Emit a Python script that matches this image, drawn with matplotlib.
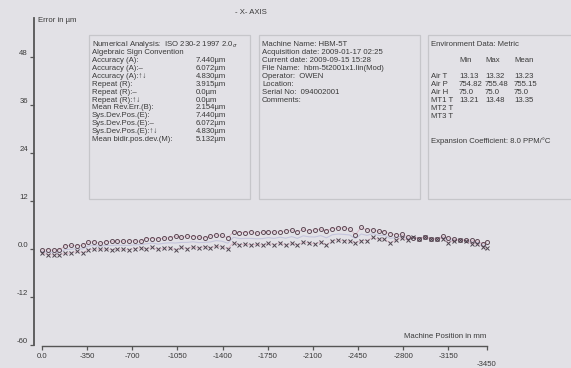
import numpy as np
import matplotlib
matplotlib.use("Agg")
import matplotlib.pyplot as plt

positions = [0, -45, -90, -135, -180, -225, -270, -315, -360, -405, -450, -495, -540, -585,
             -630, -675, -720, -765, -810, -855, -900, -945, -990, -1035, -1080, -1125, -1170,
             -1215, -1260, -1305, -1350, -1395, -1440, -1485, -1530, -1575, -1620, -1665, -1710,
             -1755, -1800, -1845, -1890, -1935, -1980, -2025, -2070, -2115, -2160, -2205, -2250,
             -2295, -2340, -2385, -2430, -2475, -2520, -2565, -2610, -2655, -2700, -2745, -2790,
             -2835, -2880, -2925, -2970, -3015, -3060, -3105, -3150, -3195, -3240, -3285, -3330,
             -3375, -3420, -3450]

forward_err = [-0.3, -0.2, -0.3, -0.2, 0.8, 0.9, 0.8, 0.9, 1.7, 1.8, 1.4, 1.8, 1.9, 2.0, 1.9, 2.0,
               2.0, 1.9, 2.6, 2.6, 2.5, 2.7, 2.8, 3.2, 2.9, 3.2, 3.1, 3.0, 2.7, 3.2, 3.5, 3.4, 2.8,
               4.3, 4.1, 4.1, 4.3, 3.9, 4.2, 4.3, 4.2, 4.3, 4.5, 4.7, 4.3, 4.9, 4.5, 4.8, 4.9, 4.6,
               5.1, 5.2, 5.3, 5.0, 3.6, 5.4, 4.7, 4.8, 4.4, 4.3, 3.8, 3.5, 3.7, 3.0, 2.8, 2.5, 3.1,
               2.6, 2.5, 3.2, 2.7, 2.5, 2.3, 2.3, 2.2, 2.0, 1.3, 1.8]

reverse_err = [-1.0, -1.4, -1.5, -1.4, -1.1, -1.0, -0.6, -0.9, -0.2, 0.0, -0.1, 0.0, -0.2, 0.0,
               -0.1, -0.2, 0.1, 0.3, 0.0, 0.4, -0.1, 0.2, 0.3, -0.2, 0.4, 0.1, 0.5, 0.2, 0.6, 0.3,
               0.7, 0.5, 0.1, 1.6, 1.1, 1.2, 1.0, 1.2, 1.0, 1.4, 1.1, 1.6, 0.9, 1.5, 1.0, 1.7, 1.6,
               1.2, 1.8, 1.0, 2.0, 2.3, 2.0, 2.0, 1.6, 2.1, 2.1, 2.9, 2.4, 2.5, 1.5, 2.3, 2.8, 2.2,
               3.0, 2.6, 3.0, 2.4, 2.6, 2.6, 1.6, 2.1, 2.3, 2.0, 1.3, 1.2, 0.6, 0.2]

y_ticks = [48, 36, 24, 12, 0, -12, -60]
y_tick_labels = ["48", "36", "24", "12", "0.0", "-12", "-60"]
x_ticks = [0, -350, -700, -1050, -1400, -1750, -2100, -2450, -2800, -3150, -3450]
x_tick_labels = ["0.0", "-350", "-700", "-1050", "-1400", "-1750", "-2100", "-2450",
                 "-2800", "-3150", "-3450"]

analysis_labels = ["Accuracy (A):", "Accuracy (A):\u2013", "Accuracy (A):\u2191\u2193",
                   "Repeat (R):", "Repeat (R):\u2013", "Repeat (R):\u2191\u2193",
                   "Mean Rev.Err.(B):", "Sys.Dev.Pos.(E):", "Sys.Dev.Pos.(E):\u2013",
                   "Sys.Dev.Pos.(E):\u2191\u2193", "Mean bidir.pos.dev.(M):"]
analysis_values = ["7.440\u00b5m", "6.072\u00b5m", "4.830\u00b5m", "3.915\u00b5m", "0.0\u00b5m",
                   "0.0\u00b5m", "2.154\u00b5m", "7.440\u00b5m", "6.072\u00b5m", "4.830\u00b5m",
                   "5.132\u00b5m"]
machine_lines = ["Machine Name: HBM-5T", "Acquisition date: 2009-01-17 02:25",
                 "Current date: 2009-09-15 15:28", "File Name:  hbm-5t2001x1.lin(Mod)",
                 "Operator:  OWEN", "Location:", "Serial No:  094002001", "Comments:"]
env_rows = ["Air T", "Air P", "Air H", "MT1 T", "MT2 T", "MT3 T"]
env_min = ["13.13", "754.82", "75.0", "13.21", "", ""]
env_max = ["13.32", "755.48", "75.0", "13.48", "", ""]
env_mean = ["13.23", "755.15", "75.0", "13.35", "", ""]

plt.rcParams['font.family'] = ['Liberation Sans', 'DejaVu Sans']
BG = "#e2e1e6"
TXT = "#3a3a3a"
W, H = 571, 368
fig = plt.figure(figsize=(W / 100, H / 100), dpi=100, facecolor=BG)

def fx(px):
    return px / W

def fy(py):
    return 1 - py / H

ax = fig.add_axes([fx(42), fy(346), fx(487) - fx(42), fy(18) - fy(346)])
ax.patch.set_visible(False)
ax.set_zorder(2)

def fwd(y):
    y = np.asarray(y, dtype=float)
    return np.where(y >= -12, y, -12 + (y + 12) / 4.0)

def inv(y):
    y = np.asarray(y, dtype=float)
    return np.where(y >= -12, y, -12 + (y + 12) * 4.0)

ax.set_yscale('function', functions=(fwd, inv))
ax.set_ylim(-61, 57.75)
ax.set_xlim(0, -3450)

# text boxes (drawn in figure coords, behind data)
def box(x0, y0, x1, y1):
    r = plt.Rectangle((fx(x0), fy(y1)), fx(x1) - fx(x0), fy(y0) - fy(y1),
                      transform=fig.transFigure, facecolor='none', edgecolor="#c6c6ca",
                      linewidth=0.9, zorder=1)
    fig.add_artist(r)

box(89, 35, 250, 199)
box(259, 35, 420, 199)
box(428, 35, 580, 199)

fs = 5.6
fig.text(fx(92), fy(44), "Numerical Analysis:  ISO 230-2 1997 2.0$_\\sigma$", fontsize=fs,
         color=TXT, va='center')
fig.text(fx(92), fy(52.5), "Algebraic Sign Convention", fontsize=fs, color=TXT, va='center')
for k, (lab, val) in enumerate(zip(analysis_labels, analysis_values)):
    yy = 61 + k * 7.8
    fig.text(fx(92), fy(yy), lab, fontsize=fs, color=TXT, va='center')
    fig.text(fx(196), fy(yy), val, fontsize=fs, color=TXT, va='center')

for k, line in enumerate(machine_lines):
    fig.text(fx(262), fy(44 + k * 8), line, fontsize=fs, color=TXT, va='center')

fig.text(fx(431), fy(44), "Environment Data: Metric", fontsize=fs, color=TXT, va='center')
fig.text(fx(459), fy(60), "Min", fontsize=fs, color=TXT, va='center')
fig.text(fx(485), fy(60), "Max", fontsize=fs, color=TXT, va='center')
fig.text(fx(514), fy(60), "Mean", fontsize=fs, color=TXT, va='center')
for k, row in enumerate(env_rows):
    yy = 76 + k * 8
    fig.text(fx(431), fy(yy), row, fontsize=fs, color=TXT, va='center')
    fig.text(fx(459), fy(yy), env_min[k], fontsize=fs, color=TXT, va='center')
    fig.text(fx(485), fy(yy), env_max[k], fontsize=fs, color=TXT, va='center')
    fig.text(fx(514), fy(yy), env_mean[k], fontsize=fs, color=TXT, va='center')
fig.text(fx(431), fy(141), "Expansion Coefficient: 8.0 PPM/\u00b0C", fontsize=fs, color=TXT,
         va='center')

fig.text(fx(251), fy(12), "- X- AXIS", fontsize=fs, color=TXT, ha='center', va='center')
fig.text(fx(38), fy(20), "Error in \u00b5m", fontsize=fs, color=TXT, va='center')
fig.text(fx(486), fy(336), "Machine Position in mm", fontsize=fs, color=TXT, ha='right',
         va='center')

# data
pos = np.array(positions)
fw = np.array(forward_err)
rv = np.array(reverse_err)
mean = (fw + rv) / 2
ax.plot(pos, mean, color="#c4c4dc", lw=0.8, zorder=2, clip_on=False)
ax.plot(pos, fw, color="#dcb4c4", lw=0.6, zorder=2, clip_on=False)
ax.plot(pos, rv, color="#dcb4c4", lw=0.6, zorder=2, clip_on=False)
ax.plot(pos, fw, ls='none', marker='o', ms=2.9, mfc='none', mec="#5e4a56", mew=0.7,
        zorder=3, clip_on=False)
ax.plot(pos, rv, ls='none', marker='x', ms=2.5, mec="#4e4650", mew=0.7, zorder=3,
        clip_on=False)

# axes styling
for s in ['top', 'right']:
    ax.spines[s].set_visible(False)
ax.spines['left'].set_position(('outward', 6))
ax.spines['left'].set_bounds(-60, 57.75)
ax.spines['left'].set_color("#555555")
ax.spines['bottom'].set_color("#555555")
ax.spines['left'].set_linewidth(1.3)
ax.spines['bottom'].set_linewidth(1.0)

ax.set_yticks(y_ticks)
ax.set_yticklabels(y_tick_labels)
ax.set_xticks(x_ticks)
ax.set_xticklabels(x_tick_labels)
ax.tick_params(axis='both', direction='out', length=3, width=0.9, colors="#555555",
               labelsize=5.6, labelcolor=TXT, pad=2)
ax.tick_params(axis='y', pad=1)
for lab in ax.get_yticklabels():
    lab.set_verticalalignment('bottom')
xl = ax.get_xticklabels()
xl[-1].set_y(-0.025)

fig.savefig("out.png", dpi=100, facecolor=BG)
